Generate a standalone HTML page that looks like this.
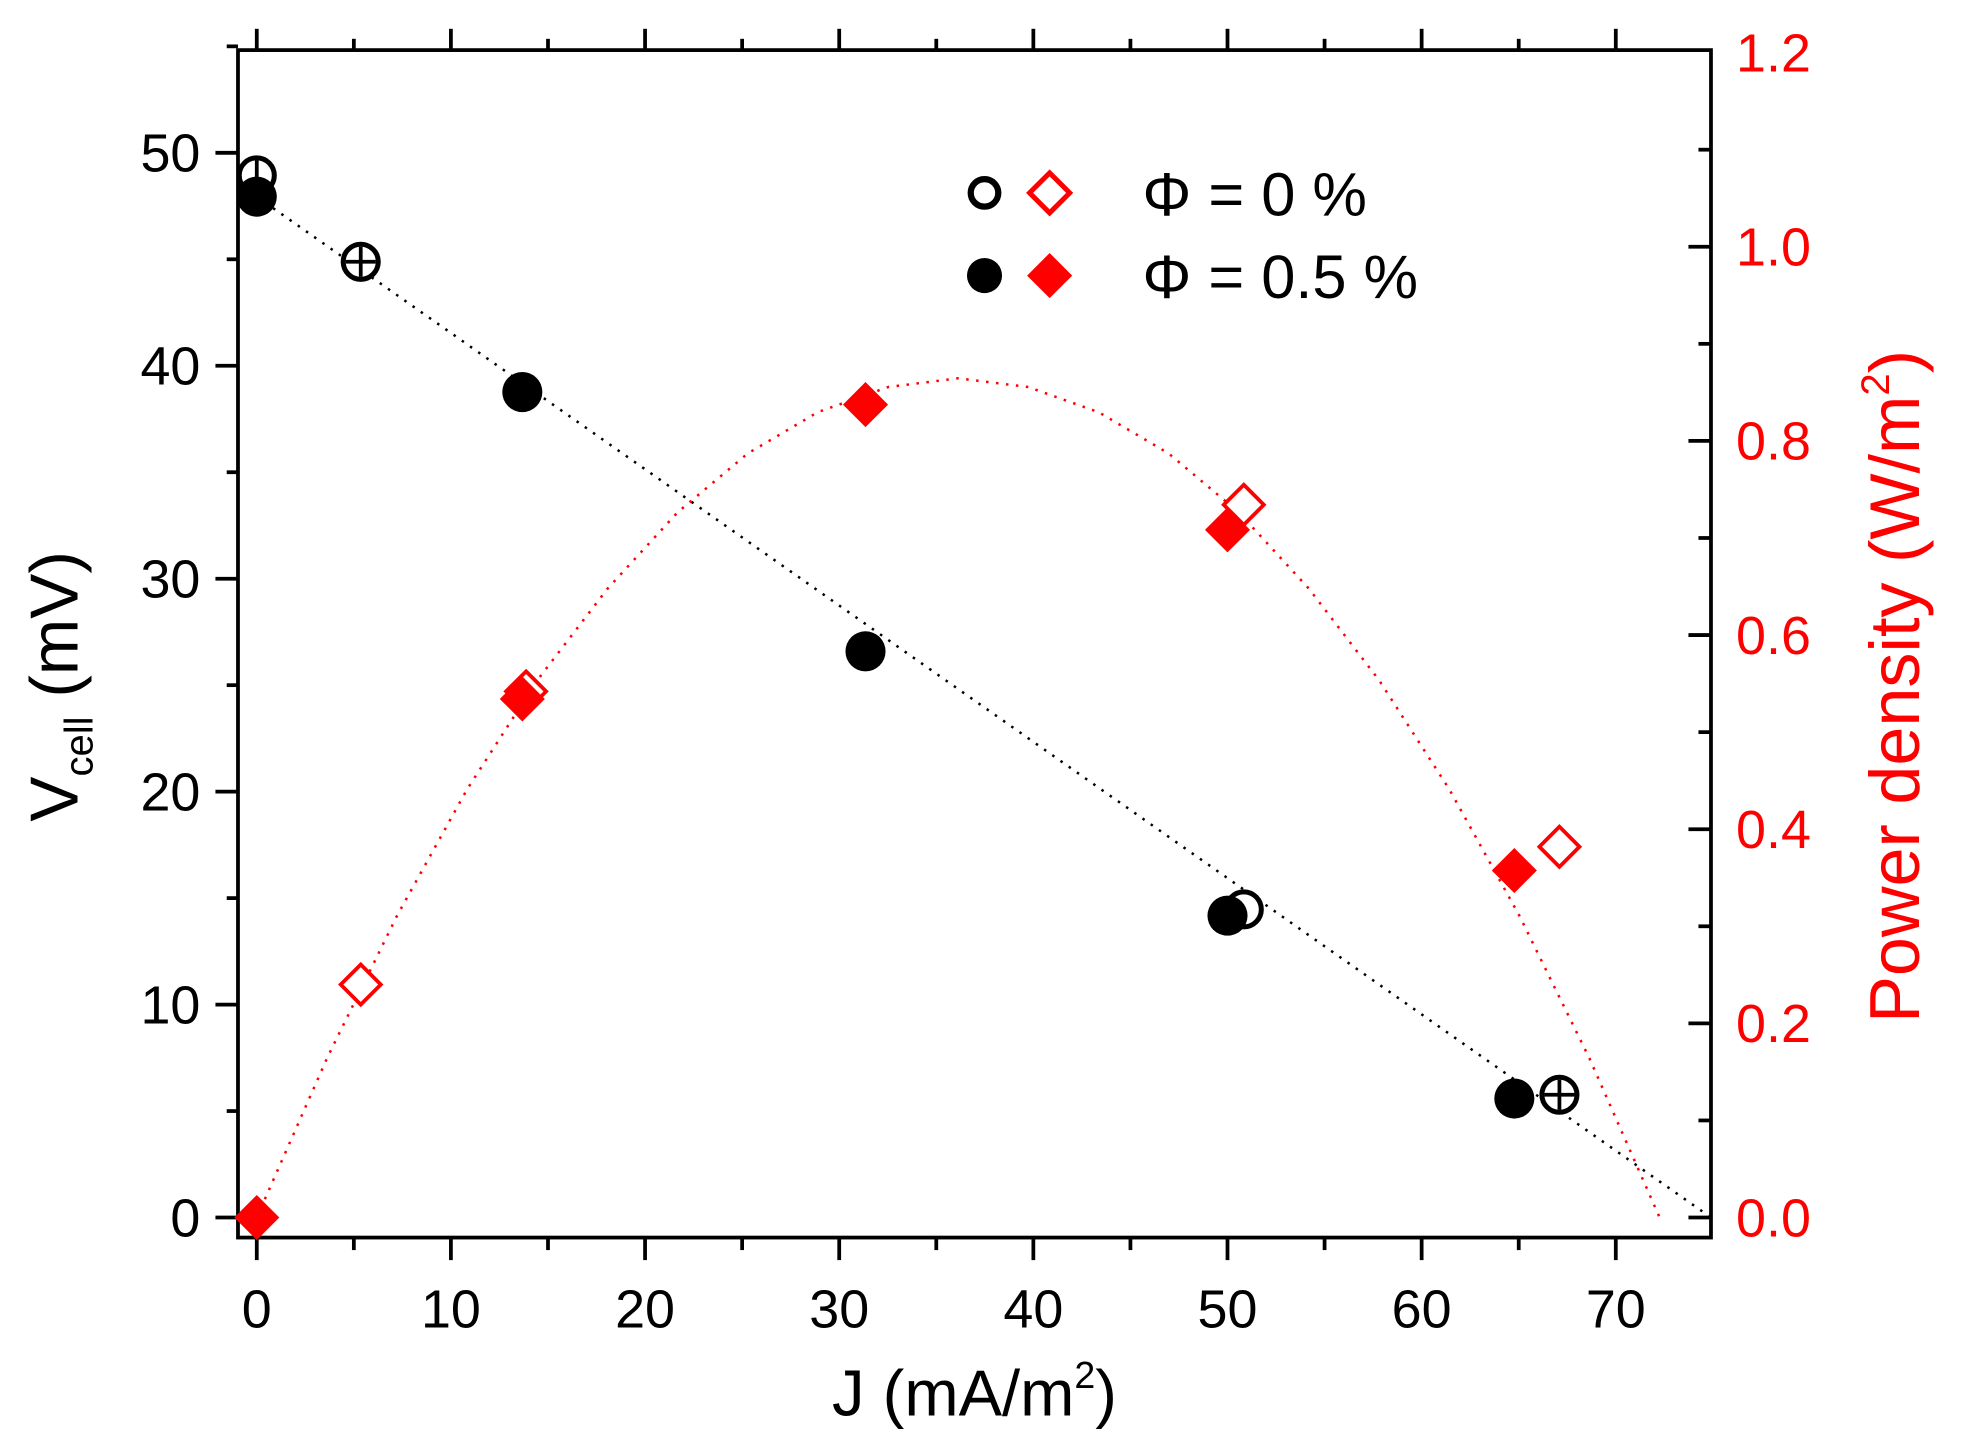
<!DOCTYPE html>
<html><head><meta charset="utf-8"><style>
html,body{margin:0;padding:0;background:#fff;}
svg{display:block;}
text{font-family:"Liberation Sans",sans-serif;}
</style></head><body>
<svg width="1964" height="1450" viewBox="0 0 1568 1157.6" preserveAspectRatio="none" xmlns="http://www.w3.org/2000/svg">
<rect width="1568" height="1158" fill="#fff"/>
<rect x="190" y="40" width="1176" height="948" fill="none" stroke="#000" stroke-width="3"/>
<g stroke="#000" stroke-width="3">
<line x1="205" y1="988" x2="205" y2="1006"/><line x1="282.5" y1="988" x2="282.5" y2="998"/>
<line x1="360" y1="988" x2="360" y2="1006"/><line x1="437.5" y1="988" x2="437.5" y2="998"/>
<line x1="515" y1="988" x2="515" y2="1006"/><line x1="592.5" y1="988" x2="592.5" y2="998"/>
<line x1="670" y1="988" x2="670" y2="1006"/><line x1="747.5" y1="988" x2="747.5" y2="998"/>
<line x1="825" y1="988" x2="825" y2="1006"/><line x1="902.5" y1="988" x2="902.5" y2="998"/>
<line x1="980" y1="988" x2="980" y2="1006"/><line x1="1057.5" y1="988" x2="1057.5" y2="998"/>
<line x1="1135" y1="988" x2="1135" y2="1006"/><line x1="1212.5" y1="988" x2="1212.5" y2="998"/>
<line x1="1290" y1="988" x2="1290" y2="1006"/>
<line x1="205" y1="40" x2="205" y2="23"/><line x1="282.5" y1="40" x2="282.5" y2="31"/>
<line x1="360" y1="40" x2="360" y2="23"/><line x1="437.5" y1="40" x2="437.5" y2="31"/>
<line x1="515" y1="40" x2="515" y2="23"/><line x1="592.5" y1="40" x2="592.5" y2="31"/>
<line x1="670" y1="40" x2="670" y2="23"/><line x1="747.5" y1="40" x2="747.5" y2="31"/>
<line x1="825" y1="40" x2="825" y2="23"/><line x1="902.5" y1="40" x2="902.5" y2="31"/>
<line x1="980" y1="40" x2="980" y2="23"/><line x1="1057.5" y1="40" x2="1057.5" y2="31"/>
<line x1="1135" y1="40" x2="1135" y2="23"/><line x1="1212.5" y1="40" x2="1212.5" y2="31"/>
<line x1="1290" y1="40" x2="1290" y2="23"/>
<line x1="190" y1="972" x2="172" y2="972"/><line x1="190" y1="887" x2="181" y2="887"/>
<line x1="190" y1="802" x2="172" y2="802"/><line x1="190" y1="717" x2="181" y2="717"/>
<line x1="190" y1="632" x2="172" y2="632"/><line x1="190" y1="547" x2="181" y2="547"/>
<line x1="190" y1="462" x2="172" y2="462"/><line x1="190" y1="377" x2="181" y2="377"/>
<line x1="190" y1="292" x2="172" y2="292"/><line x1="190" y1="207" x2="181" y2="207"/>
<line x1="190" y1="122" x2="172" y2="122"/><line x1="190" y1="37" x2="181" y2="37"/>
<line x1="1366" y1="972" x2="1348" y2="972"/><line x1="1366" y1="894.5" x2="1356" y2="894.5"/>
<line x1="1366" y1="817" x2="1348" y2="817"/><line x1="1366" y1="739.5" x2="1356" y2="739.5"/>
<line x1="1366" y1="662" x2="1348" y2="662"/><line x1="1366" y1="584.5" x2="1356" y2="584.5"/>
<line x1="1366" y1="507" x2="1348" y2="507"/><line x1="1366" y1="429.5" x2="1356" y2="429.5"/>
<line x1="1366" y1="352" x2="1348" y2="352"/><line x1="1366" y1="274.5" x2="1356" y2="274.5"/>
<line x1="1366" y1="197" x2="1348" y2="197"/><line x1="1366" y1="119.5" x2="1356" y2="119.5"/>
</g>
<g font-size="43" fill="#000" text-anchor="middle">
<text x="205" y="1060">0</text><text x="360" y="1060">10</text><text x="515" y="1060">20</text>
<text x="670" y="1060">30</text><text x="825" y="1060">40</text><text x="980" y="1060">50</text>
<text x="1135" y="1060">60</text><text x="1290" y="1060">70</text>
</g>
<g font-size="43" fill="#000" text-anchor="end">
<text x="160" y="987">0</text><text x="160" y="817">10</text><text x="160" y="647">20</text>
<text x="160" y="477">30</text><text x="160" y="307">40</text><text x="160" y="137">50</text>
</g>
<g font-size="43" fill="#f00" text-anchor="start">
<text x="1386" y="987">0.0</text><text x="1386" y="832">0.2</text><text x="1386" y="677">0.4</text>
<text x="1386" y="522">0.6</text><text x="1386" y="367">0.8</text><text x="1386" y="212">1.0</text>
<text x="1386" y="57">1.2</text>
</g>
<text x="778" y="1130" font-size="52" text-anchor="middle">J (mA/m<tspan font-size="30" dy="-22">2</tspan><tspan dy="22">)</tspan></text>
<text transform="translate(62,548) rotate(-90)" font-size="54" text-anchor="middle">V<tspan font-size="32" dy="12">cell</tspan><tspan dy="-12"> (mV)</tspan></text>
<text transform="translate(1532,548) rotate(-90)" font-size="56" fill="#f00" text-anchor="middle">Power density (W/m<tspan font-size="32" dy="-24">2</tspan><tspan dy="24">)</tspan></text>
<line x1="205" y1="157" x2="1366" y2="972" stroke="#000" stroke-width="2" stroke-dasharray="2,6"/>
<polyline fill="none" stroke="#f00" stroke-width="2" stroke-dasharray="2,6" points="205,972 261,845 317,731 373,630 429,543 485,470 541,409 597,362 653,329 709,309 765,302 821,309 877,329 933,362 989,409 1045,470 1101,543 1157,630 1213,731 1269,845 1325,972"/>
<g fill="#fff" stroke="#f00" stroke-width="3">
<path d="M288,770 L304,786 L288,802 L272,786 Z"/>
<path d="M420,536 L436,552 L420,568 L404,552 Z"/>
<path d="M993,387 L1009,403 L993,419 L977,403 Z"/>
<path d="M1245,660 L1261,676 L1245,692 L1229,676 Z"/>
</g>
<g fill="#f00">
<path d="M205,954 L223,972 L205,990 L187,972 Z"/>
<path d="M417,540 L435,558 L417,576 L399,558 Z"/>
<path d="M691,305 L709,323 L691,341 L673,323 Z"/>
<path d="M980,405 L998,423 L980,441 L962,423 Z"/>
<path d="M1209,677 L1227,695 L1209,713 L1191,695 Z"/>
</g>
<g fill="#fff" stroke="#000" stroke-width="4">
<circle cx="205" cy="140" r="14"/><circle cx="288" cy="209" r="14"/>
<circle cx="993" cy="726" r="14"/><circle cx="1245" cy="874" r="14"/>
</g>
<g stroke="#000" stroke-width="3">
<line x1="288" y1="197" x2="288" y2="221"/><line x1="276" y1="209" x2="300" y2="209"/>
<line x1="1245" y1="862" x2="1245" y2="886"/><line x1="1233" y1="874" x2="1257" y2="874"/>
<line x1="205" y1="128" x2="205" y2="152"/>
</g>
<g fill="#000">
<circle cx="205" cy="157" r="16"/><circle cx="417" cy="313" r="16"/>
<circle cx="691" cy="520" r="16"/><circle cx="980" cy="731" r="16"/>
<circle cx="1209" cy="877" r="16"/>
</g>
<circle cx="786" cy="154" r="11" fill="#fff" stroke="#000" stroke-width="5"/>
<path d="M838,138 L854,154 L838,170 L822,154 Z" fill="#fff" stroke="#f00" stroke-width="4"/>
<circle cx="786" cy="220" r="14" fill="#000"/>
<path d="M838,202 L856,220 L838,238 L820,220 Z" fill="#f00"/>
<text x="912" y="172" font-size="49">Φ = 0 %</text>
<text x="912" y="238" font-size="49">Φ = 0.5 %</text>
</svg>
</body></html>
